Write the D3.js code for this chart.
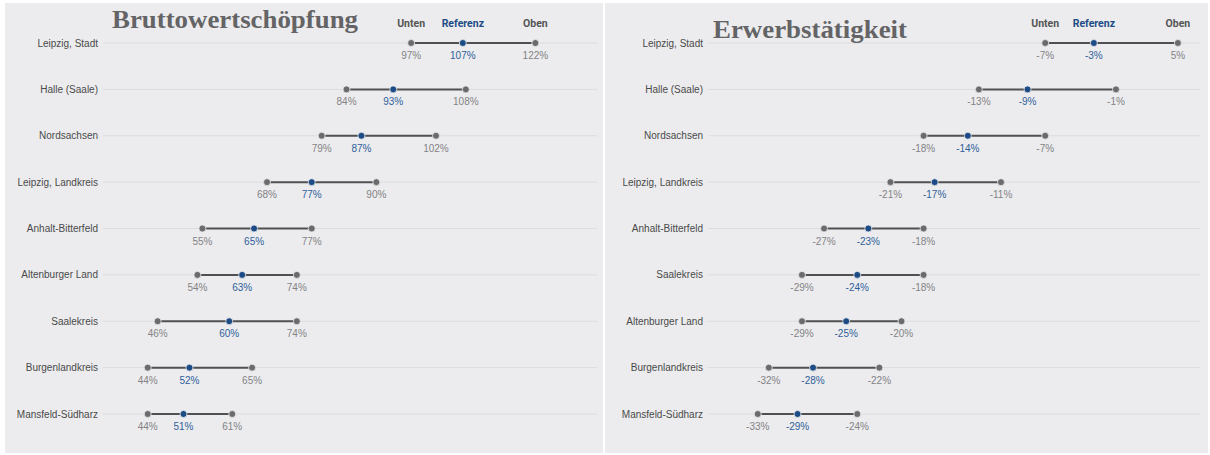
<!DOCTYPE html>
<html>
<head>
<meta charset="utf-8">
<script src="https://cdn.jsdelivr.net/npm/d3@7"></script>
<style>
  body { margin: 0; background: #fff; }
  svg { display: block; }
</style>
</head>
<body>
<svg id="chart" width="1210" height="455"></svg>
<script>
// Bruttowertschöpfung (left panel)
var bwsRegions = ["Leipzig, Stadt", "Halle (Saale)", "Nordsachsen", "Leipzig, Landkreis",
  "Anhalt-Bitterfeld", "Altenburger Land", "Saalekreis", "Burgenlandkreis", "Mansfeld-Südharz"];
var bwsUnten = [97, 84, 79, 68, 55, 54, 46, 44, 44];
var bwsReferenz = [107.4, 93.4, 87, 77, 65.4, 63, 60.4, 52.4, 51.2];
var bwsOben = [122, 108, 102, 90, 77, 74, 74, 65, 61];

// Erwerbstätigkeit (right panel)
var etRegions = ["Leipzig, Stadt", "Halle (Saale)", "Nordsachsen", "Leipzig, Landkreis",
  "Anhalt-Bitterfeld", "Saalekreis", "Altenburger Land", "Burgenlandkreis", "Mansfeld-Südharz"];
var etUnten = [-7, -13, -18, -21, -27, -29, -29, -32, -33];
var etReferenz = [-2.6, -8.6, -14, -17, -23, -24, -25, -28, -29.4];
var etOben = [5, -0.6, -7, -11, -18, -18, -20, -22, -24];

var headerLabels = ["Unten", "Referenz", "Oben"];

var grey = "#6b6b6d", blue = "#1d4b85";
var svg = d3.select("#chart");

function drawPanel(cfg) {
  var g = svg.append("g");

  g.append("rect")
    .attr("x", cfg.left).attr("y", 3)
    .attr("width", cfg.width).attr("height", 450)
    .attr("fill", "#ececee");

  var x = d3.scaleLinear().domain(cfg.domain).range(cfg.range);
  var y = d3.scalePoint().domain(cfg.regions).range([43, 414]);

  var rows = cfg.regions.map(function (r, i) {
    return { region: r, lo: cfg.lo[i], ref: cfg.ref[i], hi: cfg.hi[i] };
  });

  // gridlines
  g.selectAll(".grid").data(rows).enter().append("line")
    .attr("x1", cfg.range[0]).attr("x2", cfg.gridEnd)
    .attr("y1", function (d) { return y(d.region); })
    .attr("y2", function (d) { return y(d.region); })
    .attr("stroke", "#dcdcde").attr("stroke-width", 1);

  // region names
  g.selectAll(".name").data(rows).enter().append("text")
    .attr("x", cfg.range[0] - 5)
    .attr("y", function (d) { return y(d.region) + 3.5; })
    .attr("text-anchor", "end")
    .attr("font-family", "Liberation Sans, Arial, sans-serif")
    .attr("font-size", 10)
    .attr("fill", "#4a4a4a")
    .text(function (d) { return d.region; });

  // range lines
  g.selectAll(".range").data(rows).enter().append("line")
    .attr("x1", function (d) { return x(d.lo); })
    .attr("x2", function (d) { return x(d.hi); })
    .attr("y1", function (d) { return y(d.region); })
    .attr("y2", function (d) { return y(d.region); })
    .attr("stroke", "#505052").attr("stroke-width", 2);

  var pts = [];
  rows.forEach(function (d) {
    pts.push({ region: d.region, v: d.lo, c: grey, t: "#838385" });
    pts.push({ region: d.region, v: d.hi, c: grey, t: "#838385" });
    pts.push({ region: d.region, v: d.ref, c: blue, t: "#2f5f9a" });
  });

  g.selectAll(".dot").data(pts).enter().append("circle")
    .attr("cx", function (d) { return x(d.v); })
    .attr("cy", function (d) { return y(d.region); })
    .attr("r", 3.5)
    .attr("fill", function (d) { return d.c; })
    .attr("stroke", "#ececee").attr("stroke-width", 0.8);

  g.selectAll(".val").data(pts).enter().append("text")
    .attr("x", function (d) { return x(d.v); })
    .attr("y", function (d) { return y(d.region) + 16; })
    .attr("text-anchor", "middle")
    .attr("font-family", "Liberation Sans, Arial, sans-serif")
    .attr("font-size", 10)
    .attr("fill", function (d) { return d.t; })
    .text(function (d) { return Math.round(d.v) + "%"; });

  // header above first row
  var first = rows[0];
  var hdr = [first.lo, first.ref, first.hi];
  g.selectAll(".hdr").data(headerLabels).enter().append("text")
    .attr("x", function (d, i) { return x(hdr[i]); })
    .attr("y", 27)
    .attr("text-anchor", "middle")
    .attr("font-family", "Roboto, Liberation Sans, sans-serif")
    .attr("font-weight", "bold")
    .attr("font-size", 10.5)
    .attr("fill", function (d, i) { return i === 1 ? blue : "#555"; })
    .text(function (d) { return d; });

  g.append("text")
    .attr("x", cfg.titleX).attr("y", cfg.titleY)
    .attr("font-family", "Liberation Serif, serif")
    .attr("font-weight", "bold")
    .attr("font-size", 26)
    .attr("textLength", cfg.titleLen)
    .attr("lengthAdjust", "spacingAndGlyphs")
    .attr("fill", "#646466")
    .text(cfg.title);
}

drawPanel({
  left: 5, width: 598, title: "Bruttowertschöpfung",
  titleX: 112, titleY: 28, titleLen: 246,
  regions: bwsRegions, lo: bwsUnten, ref: bwsReferenz, hi: bwsOben,
  domain: [35, 135], range: [103, 600], gridEnd: 597
});

drawPanel({
  left: 605, width: 603, title: "Erwerbstätigkeit",
  titleX: 713, titleY: 38, titleLen: 194,
  regions: etRegions, lo: etUnten, ref: etReferenz, hi: etOben,
  domain: [-37.5, 7], range: [708, 1200], gridEnd: 1200
});
</script>
</body>
</html>
